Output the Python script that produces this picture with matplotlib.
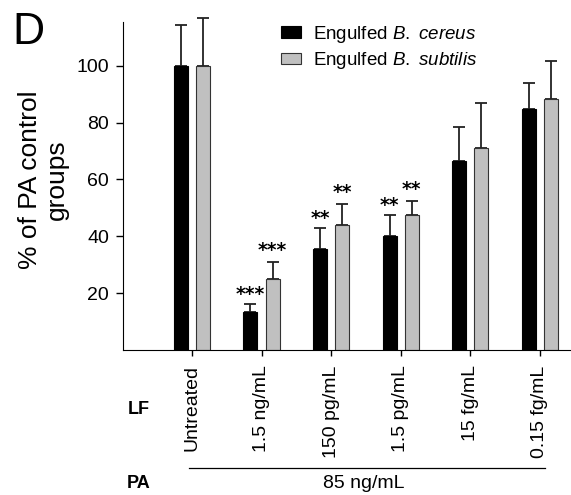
import numpy as np
import matplotlib
matplotlib.use("Agg")
import matplotlib.pyplot as plt

plt.rcParams['font.family'] = ['Liberation Sans', 'DejaVu Sans']
plt.rcParams['mathtext.fontset'] = 'custom'
plt.rcParams['mathtext.it'] = 'Liberation Sans:italic'
plt.rcParams['mathtext.rm'] = 'Liberation Sans'

# data
lf_labels = ['Untreated', '1.5 ng/mL', '150 pg/mL', '1.5 pg/mL', '15 fg/mL', '0.15 fg/mL']
cereus = [100, 13.3, 35.5, 40.1, 66.4, 84.9]
cereus_err = [14.2, 2.9, 7.5, 7.5, 11.9, 8.9]
subtilis = [100, 25.0, 44.1, 47.4, 71.2, 88.4]
subtilis_err = [16.8, 6.0, 7.2, 5.1, 15.8, 13.1]
cereus_stars = ['', '***', '**', '**', '', '']
subtilis_stars = ['', '***', '**', '**', '', '']

W, H = 571, 495
fig = plt.figure(figsize=(W / 100, H / 100), dpi=100)
ax = fig.add_axes([0.2154, 0.2929, 0.7826, 0.6633])

x = np.arange(len(lf_labels))
w = 0.2
off = 0.16

ax.bar(x - off, cereus, w, color='black', edgecolor='black', linewidth=0.8,
       label=r'Engulfed $\it{B.\ cereus}$', zorder=2)
ax.bar(x + off, subtilis, w, color='#c0c0c0', edgecolor='#333333', linewidth=0.8,
       label=r'Engulfed $\it{B.\ subtilis}$', zorder=2)

ax.errorbar(x - off, cereus, yerr=[np.zeros(len(x)), cereus_err], fmt='none',
            ecolor='#222222', elinewidth=1.3, capsize=4, capthick=1.3, zorder=1, clip_on=False)
ax.errorbar(x + off, subtilis, yerr=[np.zeros(len(x)), subtilis_err], fmt='none',
            ecolor='#222222', elinewidth=1.3, capsize=4, capthick=1.3, zorder=1, clip_on=False)

for i in range(len(x)):
    if cereus_stars[i]:
        ax.text(x[i] - off, cereus[i] + cereus_err[i] + 3.4, cereus_stars[i], ha='center',
                va='center', fontsize=13.5, fontweight='bold', family='DejaVu Sans')
    if subtilis_stars[i]:
        ax.text(x[i] + off, subtilis[i] + subtilis_err[i] + 4.0, subtilis_stars[i], ha='center',
                va='center', fontsize=13.5, fontweight='bold', family='DejaVu Sans')

ax.set_xlim(-0.99, 5.43)
ax.set_ylim(0, 115.5)
ax.set_yticks([20, 40, 60, 80, 100])
ax.tick_params(axis='y', labelsize=14, length=5, width=1, pad=5)
ax.set_xticks(x)
ax.set_xticklabels(lf_labels, rotation=90, fontsize=14)
ax.tick_params(axis='x', length=4, width=1, pad=7)
ax.spines['top'].set_visible(False)
ax.spines['right'].set_visible(False)

fig.text(43 / W, 1 - 180 / H, '% of PA control\ngroups', fontsize=19, rotation=90,
         ha='center', va='center', multialignment='center', linespacing=1.15)

ax.legend(loc='upper left', bbox_to_anchor=(0.315, 1.045), frameon=False, fontsize=13.5,
          handlelength=1.1, handleheight=0.55, labelspacing=0.3, handletextpad=0.6)

fig.text(0.022, 0.975, 'D', fontsize=32, va='top', ha='left')
fig.text(139 / W, 1 - 410 / H, 'LF', fontsize=13, fontweight='heavy', ha='center', va='center')
fig.text(139 / W, 1 - 484 / H, 'PA', fontsize=13, fontweight='heavy', ha='center', va='center')
fig.add_artist(plt.Line2D([189 / W, 545 / W], [1 - 468 / H, 1 - 468 / H],
                          color='black', linewidth=0.9))
fig.text(364 / W, 1 - 484 / H, '85 ng/mL', fontsize=14, ha='center', va='center')

fig.savefig('out.png', dpi=100)
